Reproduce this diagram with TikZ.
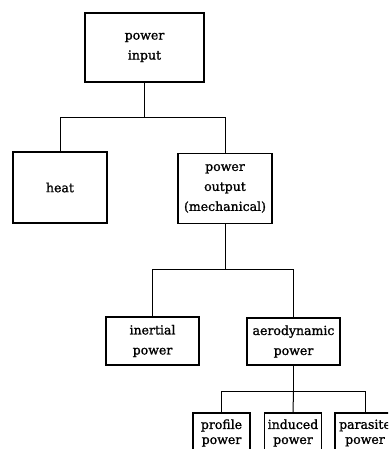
\documentclass[tikz,border=0pt]{standalone}
\usepackage{fontspec}
\setmainfont[FakeBold=1.2]{DejaVu Serif}
\usetikzlibrary{calc}

\begin{document}
\begin{tikzpicture}[x=1pt,y=-1pt,
		box/.style={draw,line width=1.1pt,align=center,inner sep=0pt,font=\fontsize{12.5}{20}\selectfont},
		smallbox/.style={box,font=\fontsize{12.5}{15}\selectfont,minimum width=57,minimum height=40},
		wire/.style={line width=1pt}]
		%%%%% START %%%%%
		
		\useasboundingbox (0,0) rectangle (388,449);
		\clip (0,0) rectangle (388,449);
		
		\node[box,minimum width=119,minimum height=69] (input) at (144.5,47.5) {power\\input};
		
		\node[box,minimum width=94,minimum height=71] (heat) at (60,187.5) {heat};
		\node[box,minimum width=94,minimum height=70] (output) at (225,188.5) {power\\output\\(mechanical)};
		
		\node[box,minimum width=93,minimum height=48] (inertial) at (152.5,341) {inertial\\power};
		\node[box,minimum width=93,minimum height=47] (aero) at (293.5,341.5) {aerodynamic\\power};
		
		\node[smallbox] (profile) at (221.5,433) {profile\\power};
		\node[smallbox] (induced) at (293,433) {induced\\power};
		\node[smallbox,minimum width=60] (parasite) at (365,433) {parasite\\power};
		
		%% branches
		\coordinate (bus1) at (144.5,118);
		\coordinate (bus2) at (225,269);
		\coordinate (bus3) at (293.5,391);
		
		\draw[wire] (input.south) -- (bus1);
		\draw[wire] (heat.north) -- (heat.north |- bus1) -- (output.north |- bus1) -- (output.north);
		
		\draw[wire] (output.south) -- (bus2);
		\draw[wire] (inertial.north) -- (inertial.north |- bus2) -- (aero.north |- bus2) -- (aero.north);
		
		\draw[wire] (aero.south) -- (bus3);
		\draw[wire] (profile.north) -- (profile.north |- bus3) -- (parasite.north |- bus3) -- (parasite.north);
		\draw[wire] (bus3) -- (induced.north);
		
		%%%%% END %%%%%
	\end{tikzpicture}
\end{document}
